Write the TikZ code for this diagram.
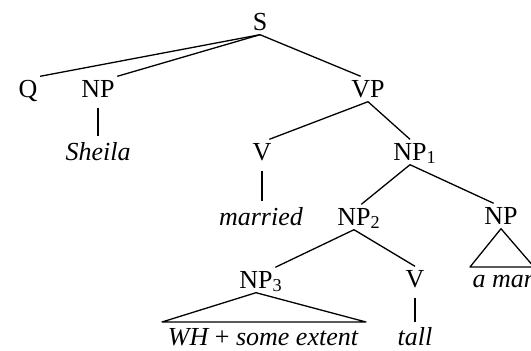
\documentclass[tikz,border=0pt]{standalone}
\usepackage{fontspec}
\setmainfont{Liberation Serif}
\usetikzlibrary{positioning}

\begin{document}
\begin{tikzpicture}[x=1pt,y=-1pt,
  lab/.style={font=\fontsize{26}{30}\selectfont,inner sep=2.5pt,
              text height=18pt,text depth=2pt,anchor=base},
  leaf/.style={font=\fontsize{26}{30}\selectfont\itshape,inner sep=2.5pt,
               text height=18pt,text depth=0pt,anchor=base},
  branch/.style={line width=1.3pt,line join=round},
  stem/.style={line width=1.3pt,shorten <=6pt,shorten >=3pt}]

  \clip (0,0) rectangle (531,351);

  % categories
  \node[lab] (s)   at (260,30)  {S};
  \node[lab] (q)   at (28,97)   {Q};
  \node[lab] (np)  at (98,97)   {NP};
  \node[lab] (vp)  at (368,97)  {VP};
  \node[lab] (v)   at (262,160) {V};
  \node[lab] (np1) at (410,160) {NP\rlap{\textsubscript{1}}};
  \node[lab] (np2) at (354,225) {NP\rlap{\textsubscript{2}}};
  \node[lab] (anp) at (501,224) {NP};
  \node[lab] (np3) at (256,288) {NP\rlap{\textsubscript{3}}};
  \node[lab] (tv)  at (415,287) {V};

  % words
  \node[leaf] (sheila)  at (98,160)  {Sheila};
  \node[leaf] (married) at (261,225) {married};
  \node[leaf,anchor=base west] (aman) at (470,287) {a man};
  \node[leaf] (wh)      at (263,345.5) {WH {\upshape +} some extent};
  \node[leaf] (tall)    at (415,345.5) {tall};

  % branches
  \draw[branch] (s.south) -- (q.north east);
  \draw[branch] (s.south) -- (np.north east);
  \draw[branch] (s.south) -- (vp.120);
  \draw[branch] (vp.south) -- (v.60);
  \draw[branch] (vp.south) -- (np1.north);
  \draw[branch] (np1.south) -- (np2.60);
  \draw[branch] (np1.south) -- (anp.120);
  \draw[branch] (np2.south) -- (np3.north east);
  \draw[branch] (np2.south) -- (tv.north);

  \draw[stem] (np.south) -- (np.south |- sheila.north);
  \draw[stem] (v.south) -- (v.south |- married.north);
  \draw[stem] (tv.south) -- (tv.south |- tall.north);

  % triangles
  \coordinate (anpl) at (470,267);
  \coordinate (anpr) at (534,267);
  \draw[branch] (anp.south) -- (anpl) -- (anpr) -- cycle;
  \coordinate (np3l) at (162,322);
  \coordinate (np3r) at (366,322);
  \draw[branch] (np3.south) -- (np3l) -- (np3r) -- cycle;
\end{tikzpicture}
\end{document}
